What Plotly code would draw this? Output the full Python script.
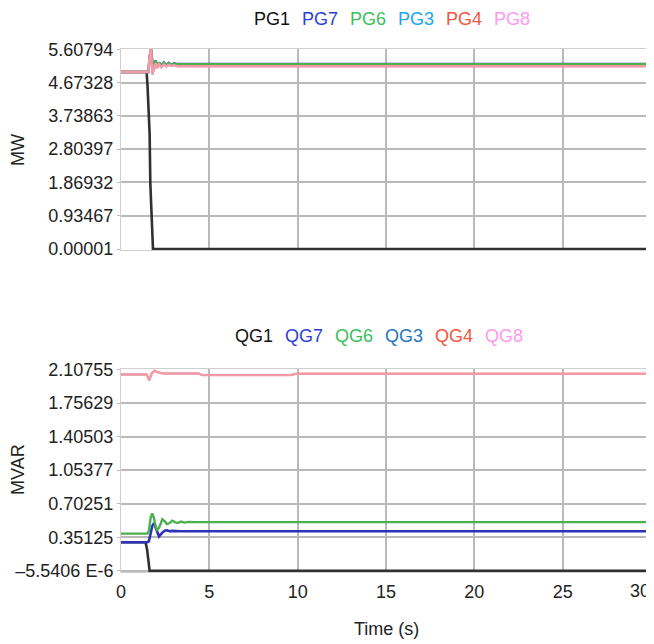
import plotly.graph_objects as go
from plotly.subplots import make_subplots

# ---------------- data ----------------
# Top panel: active power (MW)
t_pg1 = [0, 1.45, 1.50, 1.62, 1.66, 1.75, 1.81, 30]
pg1 = [4.97, 4.97, 4.60, 3.24, 1.84, 0.47, 0.0, 0.0]

t_pg = [0, 1.55, 1.62, 1.70, 1.78, 1.86, 1.95, 2.05, 2.15, 2.28, 2.42, 2.56, 2.70, 2.85, 3.00, 3.20, 30]
pg7 = [4.97, 4.97, 5.35, 5.62, 5.20, 5.05, 5.30, 5.10, 5.24, 5.13, 5.23, 5.15, 5.22, 5.16, 5.21, 5.19, 5.19]
pg6 = [4.97, 4.97, 5.35, 5.62, 5.20, 5.05, 5.30, 5.10, 5.24, 5.13, 5.23, 5.15, 5.22, 5.16, 5.21, 5.19, 5.19]
pg3 = [4.97, 4.97, 5.45, 5.66, 4.90, 5.05, 5.22, 5.08, 5.19, 5.11, 5.18, 5.13, 5.17, 5.14, 5.16, 5.13, 5.13]
pg4 = [4.97, 4.97, 5.45, 5.66, 4.90, 5.05, 5.22, 5.08, 5.19, 5.11, 5.18, 5.13, 5.17, 5.14, 5.16, 5.13, 5.13]
pg8 = [4.97, 4.97, 5.45, 5.66, 4.90, 5.05, 5.22, 5.08, 5.19, 5.11, 5.18, 5.13, 5.17, 5.14, 5.16, 5.13, 5.13]

# Bottom panel: reactive power (MVAR)
t_qg1 = [0, 1.39, 1.48, 1.56, 1.62, 30]
qg1 = [0.30, 0.30, 0.22, 0.08, 0.0, 0.0]

t_q = [0, 1.50, 1.58, 1.68, 1.77, 1.87, 1.96, 2.05, 2.15, 2.34, 2.47, 2.60, 2.75,
       2.90, 3.05, 3.20, 3.40, 3.60, 3.80, 4.20, 30]
qg7 = [0.30, 0.30, 0.31, 0.40, 0.47, 0.50, 0.46, 0.40, 0.36, 0.40, 0.42, 0.425, 0.415,
       0.418, 0.415, 0.415, 0.415, 0.415, 0.415, 0.415, 0.415]
qg6 = [0.39, 0.39, 0.42, 0.56, 0.60, 0.55, 0.46, 0.43, 0.45, 0.54, 0.52, 0.49, 0.50,
       0.525, 0.51, 0.50, 0.515, 0.505, 0.513, 0.51, 0.51]

t_q4 = [0, 1.45, 1.60, 1.75, 1.90, 2.05, 2.40, 4.4, 4.6, 9.6, 9.9, 30]
qg3 = [2.055, 2.055, 1.995, 2.07, 2.094, 2.08, 2.065, 2.065, 2.048, 2.048, 2.062, 2.062]
qg4 = [2.055, 2.055, 1.995, 2.07, 2.094, 2.08, 2.065, 2.065, 2.048, 2.048, 2.062, 2.062]
qg8 = [2.055, 2.055, 1.995, 2.07, 2.094, 2.08, 2.065, 2.065, 2.048, 2.048, 2.062, 2.062]

x_ticks = [0, 5, 10, 15, 20, 25, 30]
x_ticktext = ["0", "5", "10", "15", "20", "25", "30"]
p_ticks = [0.00001, 0.93467, 1.86932, 2.80397, 3.73863, 4.67328, 5.60794]
p_ticktext = ["0.00001", "0.93467", "1.86932", "2.80397", "3.73863", "4.67328", "5.60794"]
q_ticks = [-5.5406e-6, 0.35125, 0.70251, 1.05377, 1.40503, 1.75629, 2.10755]
q_ticktext = ["\u20135.5406 E-6", "0.35125", "0.70251", "1.05377", "1.40503", "1.75629", "2.10755"]

p_names = ["PG1", "PG7", "PG6", "PG3", "PG4", "PG8"]
q_names = ["QG1", "QG7", "QG6", "QG3", "QG4", "QG8"]

# ---------------- styling ----------------
legend_colors_p = ["#111111", "#2b3fd8", "#3cbf5c", "#1aa8ee", "#f4573f", "#ff99ee"]
legend_colors_q = ["#111111", "#2b3fd8", "#3cbf5c", "#1f78bf", "#f4573f", "#ff99ee"]
line_colors_p = ["#303030", "#2d33b8", "#4cb04e", "#1aa8ee", "#f29a90", "#ff99ee"]
line_colors_q = ["#303030", "#2d33b8", "#4cb04e", "#1f78bf", "#f29a90", "#ff99ee"]
line_widths = [2.6, 2.6, 2.4, 1.6, 2.4, 2.4]
line_opac = [1, 1, 1, 1, 1, 0.25]

FONT = "Liberation Sans, Arial, sans-serif"
TXT = "#222222"

fig = make_subplots(rows=2, cols=1, vertical_spacing=0.2277)

p_series = [(t_pg1, pg1), (t_pg, pg7), (t_pg, pg6), (t_pg, pg3), (t_pg, pg4), (t_pg, pg8)]
q_series = [(t_qg1, qg1), (t_q, qg7), (t_q, qg6), (t_q4, qg3), (t_q4, qg4), (t_q4, qg8)]

for i, (tx, ty) in enumerate(p_series):
    fig.add_trace(go.Scatter(x=tx, y=ty, mode="lines", name=p_names[i], showlegend=False,
                             opacity=line_opac[i],
                             line=dict(color=line_colors_p[i], width=line_widths[i])),
                  row=1, col=1)
for i, (tx, ty) in enumerate(q_series):
    fig.add_trace(go.Scatter(x=tx, y=ty, mode="lines", name=q_names[i], showlegend=False,
                             opacity=line_opac[i],
                             line=dict(color=line_colors_q[i], width=line_widths[i])),
                  row=2, col=1)

axis_common = dict(showgrid=True, gridcolor="#b9b9b9", gridwidth=2, automargin=False,
                   showline=True, linecolor="#cfcfcf", linewidth=1, mirror=True,
                   zeroline=False, ticklabeloverflow="allow",
                   tickfont=dict(family=FONT, size=18, color=TXT))

# the last x label ("30") is drawn separately so it can sit flush with the right edge
fig.update_xaxes(range=[0, 30], tickvals=x_ticks, ticktext=x_ticktext[:-1] + [""], **axis_common)
fig.update_xaxes(showticklabels=False, row=1, col=1)
fig.update_xaxes(ticklabelstandoff=3, row=2, col=1)

fig.update_yaxes(range=[-0.025, 5.615], tickvals=p_ticks, ticktext=p_ticktext,
                 ticks="outside", ticklen=3, tickcolor="#bbbbbb", row=1, col=1, **axis_common)
fig.update_yaxes(range=[-0.012, 2.112], tickvals=q_ticks, ticktext=q_ticktext,
                 ticks="outside", ticklen=3, tickcolor="#bbbbbb", row=2, col=1, **axis_common)

fig.update_layout(yaxis=dict(domain=[0.6157, 1.0]), yaxis2=dict(domain=[0.0, 0.3881]))

fig.add_annotation(text=x_ticktext[-1], x=x_ticks[-1], xref="x2", y=0, yref="paper",
                   xanchor="right", yanchor="top", xshift=1, yshift=-7, showarrow=False,
                   font=dict(family=FONT, size=18, color=TXT))

# plot area in page pixels: x 121..651, y 49..572 (page has an 8px body margin)
PLOT_L, PLOT_W, PLOT_H, PLOT_B = 121, 530, 523, 572

# axis titles
fig.add_annotation(text="Time (s)", x=0.5, y=(PLOT_B - 629) / PLOT_H,
                   xref="paper", yref="paper", xanchor="center", yanchor="middle",
                   showarrow=False, font=dict(family=FONT, size=18, color=TXT))
fig.add_annotation(text="MW", x=(18 - PLOT_L) / PLOT_W, y=(PLOT_B - 150) / PLOT_H, textangle=-90,
                   xref="paper", yref="paper", xanchor="center", yanchor="middle",
                   showarrow=False, font=dict(family=FONT, size=18, color=TXT))
fig.add_annotation(text="MVAR", x=(18 - PLOT_L) / PLOT_W, y=(PLOT_B - 470) / PLOT_H, textangle=-90,
                   xref="paper", yref="paper", xanchor="center", yanchor="middle",
                   showarrow=False, font=dict(family=FONT, size=18, color=TXT))

# legend rows as coloured text
p_leg_x = [252, 300, 348, 396, 444, 492]
q_leg_x = [233, 283, 333, 383, 433, 483]
for i in range(6):
    fig.add_annotation(text=p_names[i], x=(p_leg_x[i] - PLOT_L) / PLOT_W, y=(PLOT_B - 19) / PLOT_H,
                       xref="paper", yref="paper", xanchor="left", yanchor="middle",
                       showarrow=False, font=dict(family=FONT, size=18, color=legend_colors_p[i]))
    fig.add_annotation(text=q_names[i], x=(q_leg_x[i] - PLOT_L) / PLOT_W, y=(PLOT_B - 336) / PLOT_H,
                       xref="paper", yref="paper", xanchor="left", yanchor="middle",
                       showarrow=False, font=dict(family=FONT, size=18, color=legend_colors_q[i]))

fig.update_layout(width=646, height=636, margin=dict(l=113, r=3, t=41, b=72, autoexpand=False),
                  plot_bgcolor="white", paper_bgcolor="white",
                  font=dict(family=FONT, size=18, color=TXT), showlegend=False)

fig.write_html("out.html")
